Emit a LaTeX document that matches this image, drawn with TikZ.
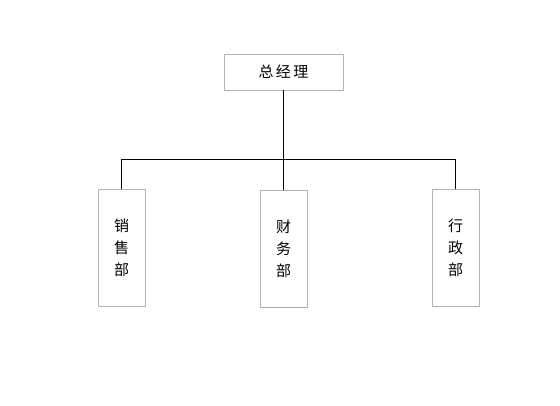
\documentclass[tikz,border=0pt]{standalone}
\usepackage{fontspec}
\newfontfamily\cjk{Noto Sans CJK SC}
\tikzset{
  orgbox/.style={draw=black!30,line width=0.9pt,inner sep=0pt,align=center,
    font=\cjk\fontsize{15}{22}\selectfont},
  deptbox/.style={orgbox,minimum width=47pt,minimum height=117pt},
  link/.style={line width=1pt,black}
}
\begin{document}
\begin{tikzpicture}[x=1pt,y=-1pt]
     		\useasboundingbox (0,0) rectangle (560,405);
     		\node[orgbox,minimum width=119pt,minimum height=36pt] (boss) at (283.5,72) {总\,经\,理};
     		\node[deptbox] (sales) at (121.5,248) {销\\售\\部};
     		\node[deptbox] (finance) at (283.5,248.5) {财\\务\\部};
     		\node[deptbox] (admin) at (455.5,248) {行\\政\\部};
     		\coordinate (bus) at (283.5,159.5);

     		\draw[link] (boss.south) -- (finance.north);
     		\draw[link] (sales.north) |- (bus) -| (admin.north);
		\end{tikzpicture}
\end{document}
